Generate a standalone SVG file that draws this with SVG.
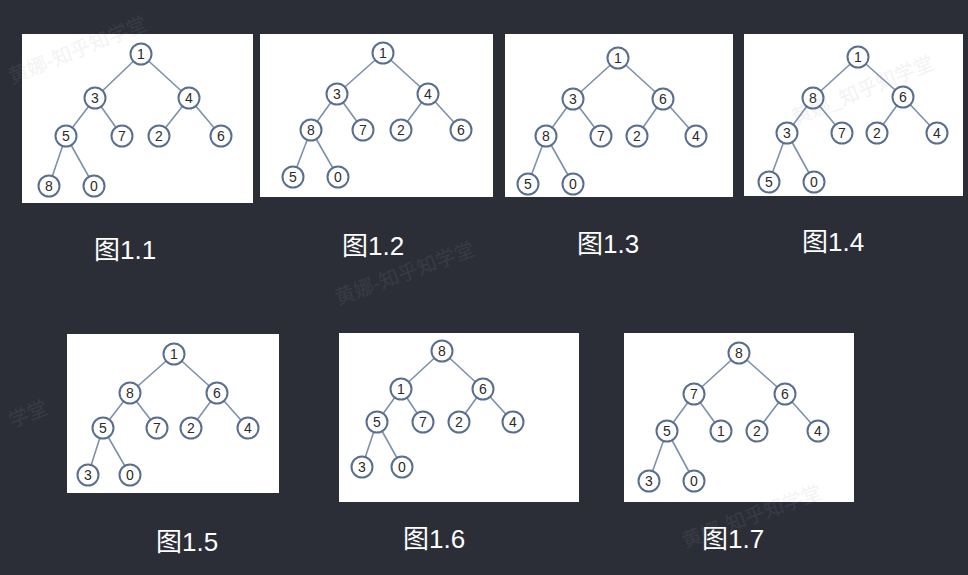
<svg xmlns="http://www.w3.org/2000/svg" width="968" height="575" viewBox="0 0 968 575">
<style>
.bg{fill:#2b2e37}
.panel{fill:#ffffff}
.e{stroke:#7d90ad;stroke-width:1.6;fill:none}
.n{fill:#ffffff;stroke:#5a6f8f;stroke-width:2}
.t{font-family:"Liberation Sans",Arial,sans-serif;font-size:14px;fill:#2a2a2a;text-anchor:middle}
.cap{font-family:"Liberation Sans","Noto Sans CJK SC",sans-serif;font-size:26px;fill:#ffffff}
.wm{font-family:"Noto Sans CJK SC",sans-serif;font-size:20px;fill:#9a9ca3;opacity:0.12}
</style>
<rect class="bg" x="0" y="0" width="968" height="575"/>
<g id="panels">
<rect class="panel" x="22" y="34" width="231" height="169"/>
<rect class="panel" x="260" y="34" width="233" height="163"/>
<rect class="panel" x="505" y="34" width="228" height="163"/>
<rect class="panel" x="744" y="34" width="219" height="162"/>
<rect class="panel" x="67" y="334" width="212" height="159"/>
<rect class="panel" x="339" y="333" width="240" height="169"/>
<rect class="panel" x="624" y="333" width="230" height="169"/>
</g>
<g id="connectors">
<path class="e" d="M141,54L95,98M141,54L189,98M95,98L66,136M95,98L122,136M189,98L159,136M189,98L221,136M66,136L49,186M66,136L94,186"/>
<path class="e" d="M383,53L337,94M383,53L428,94M337,94L311,130M337,94L363,130M428,94L401,130M428,94L461,130M311,130L293,177M311,130L338,177"/>
<path class="e" d="M618,58L573,99M618,58L663,99M573,99L546,136M573,99L601,136M663,99L637,136M663,99L696,136M546,136L528,184M546,136L573,184"/>
<path class="e" d="M858,57L813,98M858,57L903,97M813,98L787,133M813,98L842,133M903,97L877,133M903,97L937,133M787,133L769,182M787,133L814,182"/>
<path class="e" d="M174,354L130,393M174,354L217,393M130,393L103,428M130,393L157,428M217,393L191,428M217,393L248,428M103,428L88,475M103,428L130,475"/>
<path class="e" d="M442,351L401,389M442,351L483,389M401,389L377,422M401,389L423,422M483,389L459,422M483,389L513,422M377,422L362,467M377,422L402,467"/>
<path class="e" d="M739,353L694,394M739,353L785,394M694,394L667,431M694,394L721,431M785,394L757,431M785,394L818,431M667,431L649,481M667,431L694,481"/>
</g>
<g id="tree1">
<g id="t1-n1"><circle class="n" cx="141" cy="54" r="10.5"/><text class="t" x="141" y="59">1</text></g>
<g id="t1-n3"><circle class="n" cx="95" cy="98" r="10.5"/><text class="t" x="95" y="103">3</text></g>
<g id="t1-n4"><circle class="n" cx="189" cy="98" r="10.5"/><text class="t" x="189" y="103">4</text></g>
<g id="t1-n5"><circle class="n" cx="66" cy="136" r="10.5"/><text class="t" x="66" y="141">5</text></g>
<g id="t1-n7"><circle class="n" cx="122" cy="136" r="10.5"/><text class="t" x="122" y="141">7</text></g>
<g id="t1-n2"><circle class="n" cx="159" cy="136" r="10.5"/><text class="t" x="159" y="141">2</text></g>
<g id="t1-n6"><circle class="n" cx="221" cy="136" r="10.5"/><text class="t" x="221" y="141">6</text></g>
<g id="t1-n8"><circle class="n" cx="49" cy="186" r="10.5"/><text class="t" x="49" y="191">8</text></g>
<g id="t1-n0"><circle class="n" cx="94" cy="186" r="10.5"/><text class="t" x="94" y="191">0</text></g>
</g>
<g id="tree2">
<g id="t2-n1"><circle class="n" cx="383" cy="53" r="10.5"/><text class="t" x="383" y="58">1</text></g>
<g id="t2-n3"><circle class="n" cx="337" cy="94" r="10.5"/><text class="t" x="337" y="99">3</text></g>
<g id="t2-n4"><circle class="n" cx="428" cy="94" r="10.5"/><text class="t" x="428" y="99">4</text></g>
<g id="t2-n8"><circle class="n" cx="311" cy="130" r="10.5"/><text class="t" x="311" y="135">8</text></g>
<g id="t2-n7"><circle class="n" cx="363" cy="130" r="10.5"/><text class="t" x="363" y="135">7</text></g>
<g id="t2-n2"><circle class="n" cx="401" cy="130" r="10.5"/><text class="t" x="401" y="135">2</text></g>
<g id="t2-n6"><circle class="n" cx="461" cy="130" r="10.5"/><text class="t" x="461" y="135">6</text></g>
<g id="t2-n5"><circle class="n" cx="293" cy="177" r="10.5"/><text class="t" x="293" y="182">5</text></g>
<g id="t2-n0"><circle class="n" cx="338" cy="177" r="10.5"/><text class="t" x="338" y="182">0</text></g>
</g>
<g id="tree3">
<g id="t3-n1"><circle class="n" cx="618" cy="58" r="10.5"/><text class="t" x="618" y="63">1</text></g>
<g id="t3-n3"><circle class="n" cx="573" cy="99" r="10.5"/><text class="t" x="573" y="104">3</text></g>
<g id="t3-n6"><circle class="n" cx="663" cy="99" r="10.5"/><text class="t" x="663" y="104">6</text></g>
<g id="t3-n8"><circle class="n" cx="546" cy="136" r="10.5"/><text class="t" x="546" y="141">8</text></g>
<g id="t3-n7"><circle class="n" cx="601" cy="136" r="10.5"/><text class="t" x="601" y="141">7</text></g>
<g id="t3-n2"><circle class="n" cx="637" cy="136" r="10.5"/><text class="t" x="637" y="141">2</text></g>
<g id="t3-n4"><circle class="n" cx="696" cy="136" r="10.5"/><text class="t" x="696" y="141">4</text></g>
<g id="t3-n5"><circle class="n" cx="528" cy="184" r="10.5"/><text class="t" x="528" y="189">5</text></g>
<g id="t3-n0"><circle class="n" cx="573" cy="184" r="10.5"/><text class="t" x="573" y="189">0</text></g>
</g>
<g id="tree4">
<g id="t4-n1"><circle class="n" cx="858" cy="57" r="10.5"/><text class="t" x="858" y="62">1</text></g>
<g id="t4-n8"><circle class="n" cx="813" cy="98" r="10.5"/><text class="t" x="813" y="103">8</text></g>
<g id="t4-n6"><circle class="n" cx="903" cy="97" r="10.5"/><text class="t" x="903" y="102">6</text></g>
<g id="t4-n3"><circle class="n" cx="787" cy="133" r="10.5"/><text class="t" x="787" y="138">3</text></g>
<g id="t4-n7"><circle class="n" cx="842" cy="133" r="10.5"/><text class="t" x="842" y="138">7</text></g>
<g id="t4-n2"><circle class="n" cx="877" cy="133" r="10.5"/><text class="t" x="877" y="138">2</text></g>
<g id="t4-n4"><circle class="n" cx="937" cy="133" r="10.5"/><text class="t" x="937" y="138">4</text></g>
<g id="t4-n5"><circle class="n" cx="769" cy="182" r="10.5"/><text class="t" x="769" y="187">5</text></g>
<g id="t4-n0"><circle class="n" cx="814" cy="182" r="10.5"/><text class="t" x="814" y="187">0</text></g>
</g>
<g id="tree5">
<g id="t5-n1"><circle class="n" cx="174" cy="354" r="10.5"/><text class="t" x="174" y="359">1</text></g>
<g id="t5-n8"><circle class="n" cx="130" cy="393" r="10.5"/><text class="t" x="130" y="398">8</text></g>
<g id="t5-n6"><circle class="n" cx="217" cy="393" r="10.5"/><text class="t" x="217" y="398">6</text></g>
<g id="t5-n5"><circle class="n" cx="103" cy="428" r="10.5"/><text class="t" x="103" y="433">5</text></g>
<g id="t5-n7"><circle class="n" cx="157" cy="428" r="10.5"/><text class="t" x="157" y="433">7</text></g>
<g id="t5-n2"><circle class="n" cx="191" cy="428" r="10.5"/><text class="t" x="191" y="433">2</text></g>
<g id="t5-n4"><circle class="n" cx="248" cy="428" r="10.5"/><text class="t" x="248" y="433">4</text></g>
<g id="t5-n3"><circle class="n" cx="88" cy="475" r="10.5"/><text class="t" x="88" y="480">3</text></g>
<g id="t5-n0"><circle class="n" cx="130" cy="475" r="10.5"/><text class="t" x="130" y="480">0</text></g>
</g>
<g id="tree6">
<g id="t6-n8"><circle class="n" cx="442" cy="351" r="10.5"/><text class="t" x="442" y="356">8</text></g>
<g id="t6-n1"><circle class="n" cx="401" cy="389" r="10.5"/><text class="t" x="401" y="394">1</text></g>
<g id="t6-n6"><circle class="n" cx="483" cy="389" r="10.5"/><text class="t" x="483" y="394">6</text></g>
<g id="t6-n5"><circle class="n" cx="377" cy="422" r="10.5"/><text class="t" x="377" y="427">5</text></g>
<g id="t6-n7"><circle class="n" cx="423" cy="422" r="10.5"/><text class="t" x="423" y="427">7</text></g>
<g id="t6-n2"><circle class="n" cx="459" cy="422" r="10.5"/><text class="t" x="459" y="427">2</text></g>
<g id="t6-n4"><circle class="n" cx="513" cy="422" r="10.5"/><text class="t" x="513" y="427">4</text></g>
<g id="t6-n3"><circle class="n" cx="362" cy="467" r="10.5"/><text class="t" x="362" y="472">3</text></g>
<g id="t6-n0"><circle class="n" cx="402" cy="467" r="10.5"/><text class="t" x="402" y="472">0</text></g>
</g>
<g id="tree7">
<g id="t7-n8"><circle class="n" cx="739" cy="353" r="10.5"/><text class="t" x="739" y="358">8</text></g>
<g id="t7-n7"><circle class="n" cx="694" cy="394" r="10.5"/><text class="t" x="694" y="399">7</text></g>
<g id="t7-n6"><circle class="n" cx="785" cy="394" r="10.5"/><text class="t" x="785" y="399">6</text></g>
<g id="t7-n5"><circle class="n" cx="667" cy="431" r="10.5"/><text class="t" x="667" y="436">5</text></g>
<g id="t7-n1"><circle class="n" cx="721" cy="431" r="10.5"/><text class="t" x="721" y="436">1</text></g>
<g id="t7-n2"><circle class="n" cx="757" cy="431" r="10.5"/><text class="t" x="757" y="436">2</text></g>
<g id="t7-n4"><circle class="n" cx="818" cy="431" r="10.5"/><text class="t" x="818" y="436">4</text></g>
<g id="t7-n3"><circle class="n" cx="649" cy="481" r="10.5"/><text class="t" x="649" y="486">3</text></g>
<g id="t7-n0"><circle class="n" cx="694" cy="481" r="10.5"/><text class="t" x="694" y="486">0</text></g>
</g>
<g id="captions">
<text class="cap" x="94" y="259">图1.1</text>
<text class="cap" x="342" y="255">图1.2</text>
<text class="cap" x="577" y="253">图1.3</text>
<text class="cap" x="802" y="251">图1.4</text>
<text class="cap" x="156" y="551">图1.5</text>
<text class="cap" x="403" y="548">图1.6</text>
<text class="cap" x="702" y="548">图1.7</text>
</g>
<g id="watermarks">
<text class="wm" transform="translate(12,84) rotate(-22)">黄娜-知乎知学堂</text>
<text class="wm" transform="translate(338,305) rotate(-20)">黄娜-知乎知学堂</text>
<text class="wm" transform="translate(795,125) rotate(-22)">黄娜_知乎知学堂</text>
<text class="wm" transform="translate(12,428) rotate(-22)">学堂</text>
<text class="wm" transform="translate(685,548) rotate(-20)">黄娜-知乎知学堂</text>
</g>
</svg>
